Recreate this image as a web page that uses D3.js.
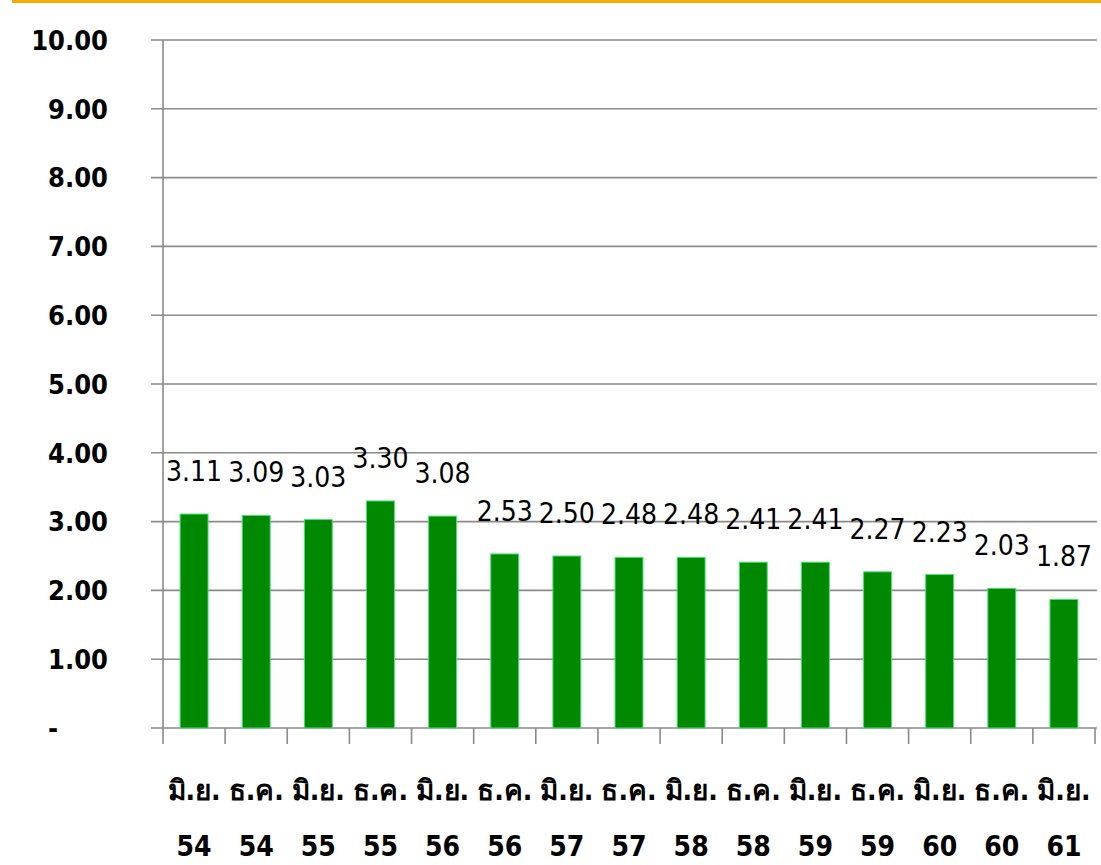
<!DOCTYPE html>
<html>
<head>
<meta charset="utf-8">
<script src="https://cdn.jsdelivr.net/npm/d3@7"></script>
<style>
  body { margin: 0; background: #fff; }
  svg { display: block; }
</style>
</head>
<body>
<svg width="1101" height="865"></svg>
<script>
const GREEN = "#008800";
const GREEN_EDGE = "#4ee07a";
const GRID = "#8a8a8a";
const ORANGE = "#f5ac00";
const FONT = "Tahoma, 'DejaVu Sans Condensed', 'DejaVu Sans', sans-serif";

// data
const months = ["มิ.ย.", "ธ.ค.", "มิ.ย.", "ธ.ค.", "มิ.ย.", "ธ.ค.", "มิ.ย.", "ธ.ค.", "มิ.ย.", "ธ.ค.", "มิ.ย.", "ธ.ค.", "มิ.ย.", "ธ.ค.", "มิ.ย."];
const years = ["54", "54", "55", "55", "56", "56", "57", "57", "58", "58", "59", "59", "60", "60", "61"];
const values = [3.11, 3.09, 3.03, 3.30, 3.08, 2.53, 2.50, 2.48, 2.48, 2.41, 2.41, 2.27, 2.23, 2.03, 1.87];
const yTicks = [0, 1, 2, 3, 4, 5, 6, 7, 8, 9, 10];

// layout
const m = { top: 40, left: 163, right: 1095, bottom: 728 };

var svg = d3.select("svg");

// orange rule across the top
svg.append("rect")
    .attr("x", 12).attr("y", 0)
    .attr("width", 1101 - 12).attr("height", 3)
    .attr("fill", ORANGE);

var idx = values.map((d, i) => i);

var x = d3.scaleBand()
    .domain(idx)
    .range([m.left, m.right])
    .paddingInner(0.55)
    .paddingOuter(0.275);

var xEdge = d3.scaleLinear()
    .domain([0, values.length])
    .range([m.left, m.right]);

var y = d3.scaleLinear()
    .domain([0, 10])
    .range([m.bottom, m.top]);

/*=========================================================================
Grid + axes
=========================================================================*/
var grid = svg.append("g").attr("id", "grid");

grid.selectAll("line")
    .data(yTicks)
    .enter().append("line")
    .attr("x1", m.left - 12)
    .attr("x2", m.right + 2)
    .attr("y1", d => y(d))
    .attr("y2", d => y(d))
    .attr("stroke", GRID)
    .attr("stroke-width", 1.6);

// vertical axis line
grid.append("line")
    .attr("x1", m.left).attr("x2", m.left)
    .attr("y1", y(10)).attr("y2", m.bottom + 16)
    .attr("stroke", GRID)
    .attr("stroke-width", 1.6);

// category boundary ticks
grid.selectAll(".xtick")
    .data(d3.range(1, values.length + 1))
    .enter().append("line")
    .attr("class", "xtick")
    .attr("x1", d => xEdge(d))
    .attr("x2", d => xEdge(d))
    .attr("y1", m.bottom)
    .attr("y2", m.bottom + 16)
    .attr("stroke", GRID)
    .attr("stroke-width", 1.6);

// y tick labels
svg.append("g")
    .attr("id", "ylabels")
    .selectAll("text")
    .data(yTicks)
    .enter().append("text")
    .attr("x", d => d === 0 ? 58 : 108)
    .attr("y", d => y(d))
    .attr("dy", "0.36em")
    .attr("text-anchor", "end")
    .attr("font-family", FONT)
    .attr("font-weight", "bold")
    .attr("font-size", 27)
    .attr("fill", "#000")
    .text(d => d === 0 ? "-" : d.toFixed(2));

/*=========================================================================
Bars
=========================================================================*/
svg.append("g")
    .attr("id", "bars")
    .selectAll("rect")
    .data(idx)
    .enter().append("rect")
    .attr("x", i => x(i))
    .attr("y", i => y(values[i]))
    .attr("width", x.bandwidth())
    .attr("height", i => y(0) - y(values[i]))
    .attr("fill", GREEN)
    .attr("stroke", GREEN_EDGE)
    .attr("stroke-width", 1);

// value labels
svg.append("g")
    .attr("id", "values")
    .selectAll("text")
    .data(idx)
    .enter().append("text")
    .attr("x", i => x(i) + x.bandwidth() / 2)
    .attr("y", i => y(values[i]) - 33)
    .attr("text-anchor", "middle")
    .attr("font-family", FONT)
    .attr("font-size", 28)
    .attr("fill", "#000")
    .text(i => values[i].toFixed(2));

/*=========================================================================
Category labels (two lines)
=========================================================================*/
var cats = svg.append("g").attr("id", "xlabels")
    .selectAll("g")
    .data(idx)
    .enter().append("g")
    .attr("transform", i => `translate(${x(i) + x.bandwidth() / 2}, 0)`);

cats.append("text")
    .attr("y", 800)
    .attr("text-anchor", "middle")
    .attr("font-family", FONT)
    .attr("font-weight", "bold")
    .attr("font-size", 28)
    .text(i => months[i]);

cats.append("text")
    .attr("y", 856)
    .attr("text-anchor", "middle")
    .attr("font-family", FONT)
    .attr("font-weight", "bold")
    .attr("font-size", 28)
    .text(i => years[i]);
</script>
</body>
</html>
